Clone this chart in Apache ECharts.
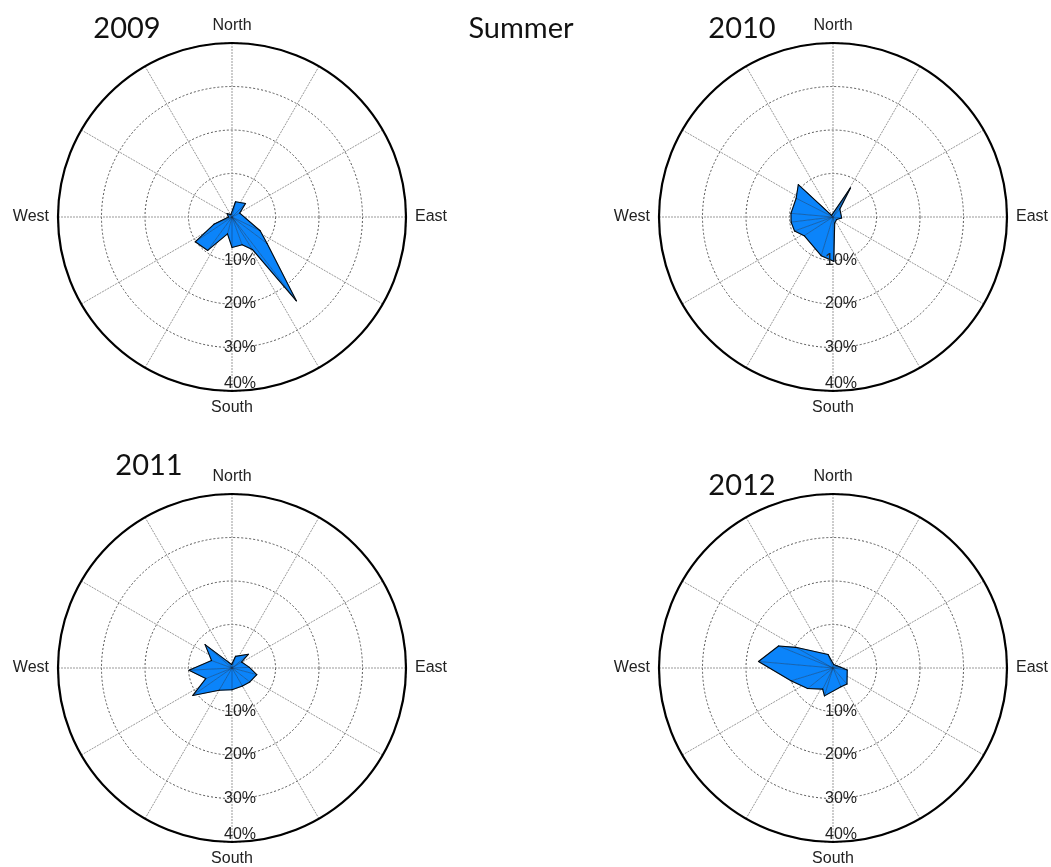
<!DOCTYPE html>
<html>
<head>
<meta charset="utf-8">
<script src="https://cdn.jsdelivr.net/npm/echarts@6/dist/echarts.min.js"></script>
<style>
  html, body { margin: 0; padding: 0; background: #ffffff; }
  #chart { width: 1051px; height: 867px; }
</style>
</head>
<body>
<div id="chart"></div>
<script>
// Summer wind roses, one panel per year.
const years = ['2009', '2010', '2011', '2012'];
const seasonTitle = 'Summer';
const compassLabels = { 0: 'North', 90: 'East', 180: 'South', 270: 'West' };
const ringTicks = [10, 20, 30, 40];

// Outline of each rose: direction (degrees clockwise from north) and frequency (%)
const dir2009  = [13, 45, 63, 116, 127, 142.5, 148, 160, 180, 195, 216, 236, 248, 270, 305, 335];
const freq2009 = [3.6, 4.4, 2.0, 7.2, 10.1, 24.3, 8.8, 6.8, 7.0, 4.0, 9.5, 10.2, 4.5, 0.8, 1.4, 0.6];

const dir2010  = [31, 41, 96, 125, 165, 179, 197, 237, 250, 263, 275, 297, 313, 320];
const freq2010 = [7.8, 2.4, 2.0, 1.0, 1.5, 10.2, 9.3, 7.9, 9.4, 9.7, 9.7, 9.5, 10.9, 0.5];

const dir2011  = [17, 50, 58, 88, 105, 128, 150, 180, 210, 235, 248, 267, 290, 311, 330, 355];
const freq2011 = [2.8, 4.9, 2.6, 4.0, 5.9, 5.2, 4.8, 5.0, 5.9, 11.0, 6.5, 9.9, 5.0, 8.2, 1.5, 0.8];

const dir2012  = [10, 60, 85, 98, 139, 157, 197, 206, 231, 253, 275, 292, 299, 340];
const freq2012 = [0.8, 1.0, 1.8, 3.3, 4.9, 4.7, 6.7, 5.4, 7.5, 10.1, 17.2, 13.5, 9.8, 3.3];

const dirs  = [dir2009, dir2010, dir2011, dir2012];
const freqs = [freq2009, freq2010, freq2011, freq2012];

// Panel layout
const centers = [[232, 217], [833, 217], [232, 668], [833, 668]];
const radius = 174;
const titlePos = [[127, 29], [742, 29], [149, 466], [742, 486]];
const seasonPos = [521, 29];

const labelFont = 'Liberation Sans, Arial, sans-serif';
const titleFont = 'Lato, "Open Sans", sans-serif';
const fillColor = '#0b84fa';

const chart = echarts.init(document.getElementById('chart'), null, { renderer: 'canvas' });

const polar = centers.map(c => ({ center: c, radius: radius }));

const angleAxis = centers.map((c, i) => ({
  polarIndex: i,
  type: 'value',
  min: 0,
  max: 360,
  interval: 30,
  startAngle: 90,
  clockwise: true,
  axisLine: { show: true, lineStyle: { color: '#000', width: 2.2 } },
  axisTick: { show: false },
  axisLabel: {
    formatter: v => compassLabels[v] || '',
    color: '#222',
    fontSize: 16,
    fontFamily: labelFont,
    margin: 9
  },
  splitLine: { show: true, lineStyle: { color: '#999', width: 1, type: [2, 1] } },
  z: 1
}));

const radiusAxis = centers.map((c, i) => ({
  polarIndex: i,
  type: 'value',
  min: 0,
  max: 40,
  interval: 10,
  axisLine: { show: false },
  axisTick: { show: false },
  axisLabel: { show: false },
  splitLine: { show: true, lineStyle: { color: '#555', width: 1, type: [2, 2] } },
  z: 0
}));

// Rose petals: each segment is a triangle from the centre to two neighbouring outline points
const roseSeries = years.map((y, i) => ({
  type: 'custom',
  name: y,
  coordinateSystem: 'polar',
  polarIndex: i,
  silent: true,
  animation: false,
  z: 2,
  data: dirs[i].map((d, k) => [freqs[i][k], d]),
  renderItem: (params, api) => {
    const n = dirs[i].length;
    const k = params.dataIndex;
    const k2 = (k + 1) % n;
    const c = api.coord([0, 0]);
    const p1 = api.coord([api.value(0), api.value(1)]);
    const p2 = api.coord([freqs[i][k2], dirs[i][k2]]);
    return {
      type: 'group',
      children: [
        {
          type: 'polygon',
          shape: { points: [c, p1, p2] },
          style: { fill: fillColor, stroke: fillColor, lineWidth: 0.6 },
          z2: 1
        },
        {
          type: 'line',
          shape: { x1: c[0], y1: c[1], x2: p1[0], y2: p1[1] },
          style: { stroke: '#1a2a40', lineWidth: 0.5, opacity: 0.8 },
          z2: 2
        },
        {
          type: 'line',
          shape: { x1: p1[0], y1: p1[1], x2: p2[0], y2: p2[1] },
          style: { stroke: '#0a0a0a', lineWidth: 1.1, lineCap: 'round' },
          z2: 3
        }
      ]
    };
  }
}));

// Percentage labels on the rings, along the south spoke
const ringLabelSeries = years.map((y, i) => ({
  type: 'custom',
  coordinateSystem: 'polar',
  polarIndex: i,
  silent: true,
  animation: false,
  z: 5,
  data: ringTicks.map(t => [t, 180]),
  renderItem: (params, api) => {
    const v = api.value(0);
    const p = api.coord([v, api.value(1)]);
    const outer = v === ringTicks[ringTicks.length - 1];
    return {
      type: 'text',
      x: p[0] + 8,
      y: outer ? p[1] + 1 : p[1],
      style: {
        text: v + '%',
        fill: '#222',
        font: '16px ' + labelFont,
        textAlign: 'center',
        textVerticalAlign: outer ? 'bottom' : 'middle'
      }
    };
  }
}));

const graphic = years.map((y, i) => ({
  type: 'text',
  x: titlePos[i][0],
  y: titlePos[i][1],
  style: {
    text: y,
    fill: '#111',
    font: '29px ' + titleFont,
    textAlign: 'center',
    textVerticalAlign: 'middle'
  }
})).concat([{
  type: 'text',
  x: seasonPos[0],
  y: seasonPos[1],
  style: {
    text: seasonTitle,
    fill: '#111',
    font: '29px ' + titleFont,
    textAlign: 'center',
    textVerticalAlign: 'middle'
  }
}]);

chart.setOption({
  backgroundColor: '#ffffff',
  animation: false,
  polar: polar,
  angleAxis: angleAxis,
  radiusAxis: radiusAxis,
  series: roseSeries.concat(ringLabelSeries),
  graphic: graphic
});
</script>
</body>
</html>
